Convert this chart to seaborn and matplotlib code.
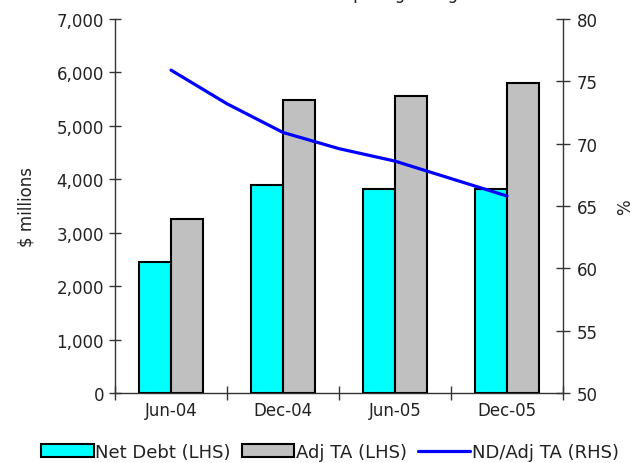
import matplotlib
matplotlib.use("Agg")
import matplotlib.pyplot as plt
import matplotlib.ticker as mticker
from matplotlib.patches import Patch
from matplotlib.lines import Line2D
import seaborn as sns
import pandas as pd

# ---- data ----
periods = ["Jun-04", "Dec-04", "Jun-05", "Dec-05"]
net_debt = [2450, 3900, 3810, 3815]
adj_ta = [3250, 5480, 5550, 5810]
quarters = ["Jun-04", "Sep-04", "Dec-04", "Mar-05", "Jun-05", "Sep-05", "Dec-05"]
nd_adj_ta = [75.9, 73.2, 70.9, 69.6, 68.6, 67.2, 65.8]
series_names = ["Net Debt (LHS)", "Adj TA (LHS)", "ND/Adj TA (RHS)"]
left_ticks = [0, 1000, 2000, 3000, 4000, 5000, 6000, 7000]
right_ticks = [50, 55, 60, 65, 70, 75, 80]
title = "Net debt and capital gearing"

sns.set_theme(style="white")
plt.rcParams["font.family"] = ["DejaVu Sans"]
plt.rcParams["font.size"] = 12
txt = "#222222"

bar_colors = ["#00FFFF", "#C0C0C0"]
line_color = "#0000FF"

df = pd.DataFrame({
    "period": periods * 2,
    "value": net_debt + adj_ta,
    "series": [series_names[0]] * len(periods) + [series_names[1]] * len(periods),
})
line_df = pd.DataFrame({
    "pos": [i * (len(periods) - 1) / (len(quarters) - 1) for i in range(len(quarters))],
    "pct": nd_adj_ta,
})

fig = plt.figure(figsize=(6.36, 4.64), dpi=100)
ax = fig.add_axes([115 / 636, 1 - 394 / 464, (563 - 115) / 636, (394 - 20) / 464])

sns.barplot(data=df, x="period", y="value", hue="series", order=periods,
            palette=bar_colors, width=0.572, gap=0, edgecolor="black",
            linewidth=1.5, saturation=1, ax=ax, legend=False)
ax.set_xlim(-0.5, len(periods) - 0.5)
ax.set_ylim(left_ticks[0], left_ticks[-1])
ax.set_yticks(left_ticks)
ax.yaxis.set_major_formatter(mticker.FuncFormatter(lambda v, p: f"{int(v):,}"))
ax.set_xlabel("")
ax.set_ylabel("$ millions", color=txt, fontsize=12, labelpad=15)
ax.tick_params(axis="y", direction="inout", length=8, width=1, colors="#333333",
               labelcolor=txt, labelsize=12, pad=4, left=True)
ax.set_xticks(range(len(periods)))
ax.set_xticklabels(periods)
ax.set_xticks([i - 0.5 for i in range(len(periods) + 1)], minor=True)
ax.tick_params(axis="x", which="major", length=0, labelcolor=txt, labelsize=12, pad=6)
ax.tick_params(axis="x", which="minor", direction="inout", length=10, width=1,
               colors="#333333", bottom=True)
for s in ["top", "right"]:
    ax.spines[s].set_visible(False)
for s in ["left", "bottom"]:
    ax.spines[s].set_color("#333333")
    ax.spines[s].set_linewidth(1)

ax2 = ax.twinx()
sns.lineplot(data=line_df, x="pos", y="pct", color=line_color, linewidth=2.3,
             ax=ax2, legend=False)
ax2.set_ylim(right_ticks[0], right_ticks[-1])
ax2.set_yticks(right_ticks)
ax2.set_xlim(-0.5, len(periods) - 0.5)
ax2.set_ylabel("%", color=txt, fontsize=12, labelpad=13)
ax2.tick_params(axis="y", direction="inout", length=10, width=1, colors="#333333",
                labelcolor=txt, labelsize=12, pad=5, right=True)
for s in ["top", "left", "bottom"]:
    ax2.spines[s].set_visible(False)
ax2.spines["right"].set_color("#333333")
ax2.spines["right"].set_linewidth(1)

fig.text(0.533, 1.0 + 1 / 464, title, ha="center", va="baseline", fontsize=12, color=txt)

handles = [
    Patch(facecolor=bar_colors[0], edgecolor="black", linewidth=1.5),
    Patch(facecolor=bar_colors[1], edgecolor="black", linewidth=1.5),
    Line2D([0], [0], color=line_color, linewidth=2.3),
]
fig.legend(handles, series_names, loc="center", bbox_to_anchor=(0.519, 1 - 453 / 464),
           ncol=3, frameon=False, handlelength=2.9, handleheight=0.75,
           handletextpad=0.1, columnspacing=0.6, fontsize=13, labelcolor=txt)

fig.savefig("out.png", dpi=100)
